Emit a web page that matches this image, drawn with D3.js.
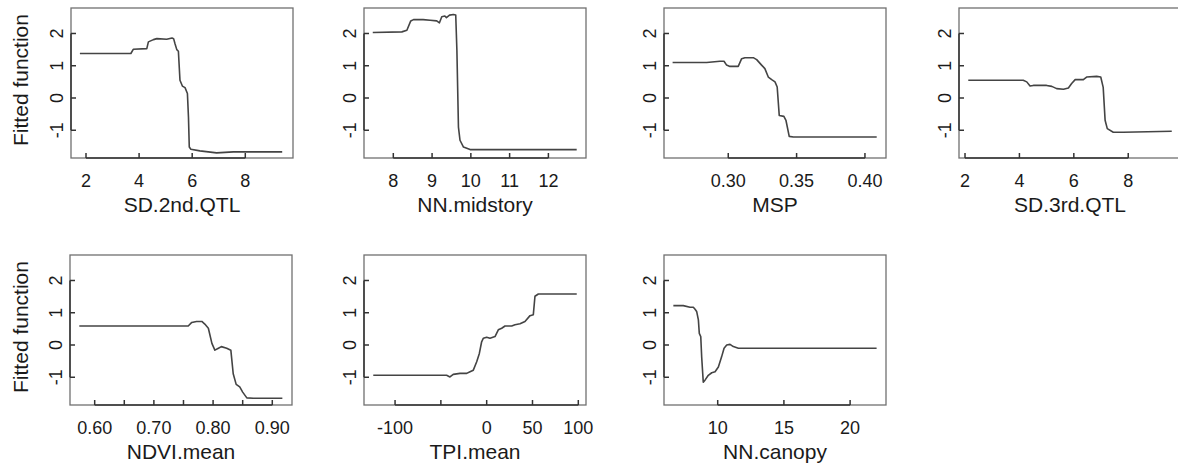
<!DOCTYPE html>
<html lang="en">
<head>
    <meta charset="UTF-8">
    <title>Partial dependence plots</title>
    <script src="https://d3js.org/d3.v7.min.js"></script>
    <style>
        body {
            margin: 0;
            background: #fff;
            font-family: "Liberation Sans", Arial, sans-serif;
        }
        .box {
            fill: none;
            stroke: #707070;
            stroke-width: 1.3;
        }
        .axisline, .tick {
            stroke: #333;
            stroke-width: 1.5;
        }
        .curve {
            fill: none;
            stroke: #444;
            stroke-width: 1.6;
            stroke-linejoin: round;
        }
        text {
            fill: #1a1a1a;
        }
    </style>
</head>
<body>
    <script>
        // Variable names (x axis titles)
        const names = ["SD.2nd.QTL", "NN.midstory", "MSP", "SD.3rd.QTL", "NDVI.mean", "TPI.mean", "NN.canopy"];

        // Fitted function curves
        const sd2X = [1.77, 3.69, 3.78, 4.29, 4.35, 4.54, 4.67, 5.04, 5.24, 5.30, 5.35, 5.42, 5.48, 5.54, 5.63, 5.73, 5.82, 5.86, 5.89, 5.95, 6.29, 6.92, 7.55, 9.39];
        const sd2Y = [1.38, 1.38, 1.51, 1.53, 1.74, 1.81, 1.84, 1.82, 1.86, 1.84, 1.69, 1.50, 1.45, 0.55, 0.37, 0.32, 0.14, -0.60, -1.52, -1.59, -1.64, -1.70, -1.67, -1.67];

        const nnmX = [7.47, 8.22, 8.35, 8.45, 8.52, 8.77, 8.95, 9.12, 9.19, 9.25, 9.33, 9.37, 9.45, 9.55, 9.61, 9.64, 9.68, 9.72, 9.81, 9.98, 12.73];
        const nnmY = [2.03, 2.05, 2.10, 2.39, 2.43, 2.43, 2.41, 2.39, 2.33, 2.52, 2.54, 2.49, 2.57, 2.59, 2.57, 1.48, -0.90, -1.31, -1.52, -1.60, -1.60];

        const mspX = [0.2593, 0.2842, 0.2939, 0.2969, 0.2988, 0.3012, 0.3073, 0.3098, 0.3122, 0.3183, 0.3208, 0.3244, 0.3268, 0.3293, 0.3318, 0.3342, 0.3358, 0.3373, 0.3407, 0.3422, 0.3446, 0.3476, 0.4086];
        const mspY = [1.10, 1.10, 1.14, 1.14, 1.02, 0.98, 0.98, 1.22, 1.25, 1.25, 1.19, 1.02, 0.91, 0.65, 0.57, 0.50, 0.34, -0.54, -0.57, -0.69, -1.19, -1.21, -1.21];

        const sd3X = [2.12, 4.14, 4.27, 4.39, 4.51, 5.00, 5.19, 5.37, 5.62, 5.80, 5.92, 6.05, 6.35, 6.47, 6.84, 6.99, 7.08, 7.15, 7.23, 7.45, 7.82, 9.60];
        const sd3Y = [0.55, 0.55, 0.50, 0.37, 0.39, 0.39, 0.36, 0.29, 0.27, 0.31, 0.45, 0.57, 0.57, 0.65, 0.67, 0.65, 0.33, -0.69, -0.95, -1.06, -1.06, -1.03];

        const ndviX = [0.574, 0.758, 0.764, 0.772, 0.781, 0.786, 0.792, 0.798, 0.803, 0.809, 0.814, 0.823, 0.830, 0.834, 0.839, 0.845, 0.850, 0.857, 0.868, 0.917];
        const ndviY = [0.59, 0.59, 0.70, 0.73, 0.73, 0.65, 0.52, 0.05, -0.16, -0.10, -0.05, -0.10, -0.16, -0.89, -1.22, -1.30, -1.46, -1.64, -1.65, -1.65];

        const tpiX = [-123.8, -43.7, -40.1, -36.5, -29.1, -21.8, -18.2, -14.6, -10.9, -8.0, -5.5, -3.6, 0, 3.6, 9.1, 12.7, 16.4, 20.0, 27.3, 30.9, 36.4, 41.8, 47.3, 50.9, 52.7, 56.4, 98.3];
        const tpiY = [-0.94, -0.94, -0.99, -0.91, -0.88, -0.88, -0.83, -0.78, -0.52, -0.26, 0.10, 0.21, 0.24, 0.21, 0.26, 0.47, 0.52, 0.59, 0.59, 0.63, 0.66, 0.73, 0.91, 0.94, 1.51, 1.58, 1.58];

        const nncX = [6.65, 7.40, 7.91, 8.16, 8.29, 8.41, 8.54, 8.61, 8.72, 8.79, 8.91, 9.04, 9.29, 9.55, 9.80, 10.05, 10.30, 10.48, 10.68, 10.93, 11.18, 11.56, 22.0];
        const nncY = [1.22, 1.22, 1.17, 1.17, 1.11, 1.04, 0.78, 0.36, 0.26, -0.37, -1.15, -1.09, -0.94, -0.86, -0.83, -0.68, -0.36, -0.10, 0.00, 0.02, -0.05, -0.10, -0.10];

        const seriesX = [sd2X, nnmX, mspX, sd3X, ndviX, tpiX, nncX];
        const seriesY = [sd2Y, nnmY, mspY, sd3Y, ndviY, tpiY, nncY];

        // Axis ranges (R's usr limits)
        const xDomains = [[1.435, 9.797], [7.244, 12.97], [0.253, 0.4154], [1.779, 9.94], [0.5583, 0.9333], [-133.9, 108.4], [5.944, 22.71]];
        const yDomain = [-1.86, 2.79];

        // Tick marks and labels
        const xTicks = [
            [2, 4, 6, 8],
            [8, 9, 10, 11, 12],
            [0.30, 0.35, 0.40],
            [2, 4, 6, 8],
            [0.60, 0.65, 0.70, 0.75, 0.80, 0.85, 0.90],
            [-100, -50, 0, 50, 100],
            [10, 15, 20]
        ];
        const xLabels = [
            ["2", "4", "6", "8"],
            ["8", "9", "10", "11", "12"],
            ["0.30", "0.35", "0.40"],
            ["2", "4", "6", "8"],
            ["0.60", "", "0.70", "", "0.80", "", "0.90"],
            ["-100", "", "0", "50", "100"],
            ["10", "15", "20"]
        ];
        const yTicks = [-1, 0, 1, 2];
        const yTitle = "Fitted function";

        // Layout
        const W = 1178, H = 464;
        const panelLeft = [71, 364, 664, 959, 70, 364, 664];
        const panelTop = [8, 8, 8, 8, 255, 255, 255];
        const pw = 222, ph = 150, tickLen = 5;

        const svg = d3.select("body").append("svg")
            .attr("width", W)
            .attr("height", H);

        names.forEach((name, i) => {
            const g = svg.append("g")
                .attr("transform", `translate(${panelLeft[i]},${panelTop[i]})`);

            const x = d3.scaleLinear().domain(xDomains[i]).range([0, pw]);
            const y = d3.scaleLinear().domain(yDomain).range([ph, 0]);

            g.append("rect")
                .attr("class", "box")
                .attr("x", 0).attr("y", 0)
                .attr("width", pw).attr("height", ph);

            // bottom axis: line between first and last tick, ticks pointing inward
            const xt = xTicks[i];
            g.append("line")
                .attr("class", "axisline")
                .attr("x1", x(xt[0])).attr("x2", x(xt[xt.length - 1]))
                .attr("y1", ph).attr("y2", ph);
            g.selectAll(".xtick")
                .data(xt)
                .join("line")
                .attr("class", "tick")
                .attr("x1", d => x(d)).attr("x2", d => x(d))
                .attr("y1", ph).attr("y2", ph - tickLen);
            g.selectAll(".xlab")
                .data(xt)
                .join("text")
                .attr("x", d => x(d))
                .attr("y", ph + 28.5)
                .attr("text-anchor", "middle")
                .attr("font-size", 18)
                .text((d, j) => xLabels[i][j]);

            // left axis
            g.append("line")
                .attr("class", "axisline")
                .attr("x1", 0).attr("x2", 0)
                .attr("y1", y(yTicks[0])).attr("y2", y(yTicks[yTicks.length - 1]));
            g.selectAll(".ytick")
                .data(yTicks)
                .join("line")
                .attr("class", "tick")
                .attr("x1", 0).attr("x2", tickLen)
                .attr("y1", d => y(d)).attr("y2", d => y(d));
            g.selectAll(".ylab")
                .data(yTicks)
                .join("text")
                .attr("transform", d => `translate(-8,${y(d)}) rotate(-90)`)
                .attr("text-anchor", "middle")
                .attr("font-size", 18)
                .text(d => d);

            // x title
            g.append("text")
                .attr("x", pw / 2)
                .attr("y", ph + 54)
                .attr("text-anchor", "middle")
                .attr("font-size", 21)
                .text(name);

            // y title on the left column only
            if (i === 0 || i === 4) {
                g.append("text")
                    .attr("transform", `translate(${-panelLeft[i] + 28},${ph / 2 - 3}) rotate(-90)`)
                    .attr("text-anchor", "middle")
                    .attr("font-size", 21)
                    .text(yTitle);
            }

            // fitted curve
            const pts = seriesX[i].map((v, j) => [v, seriesY[i][j]]);
            g.append("path")
                .datum(pts)
                .attr("class", "curve")
                .attr("d", d3.line().x(d => x(d[0])).y(d => y(d[1])));
        });
    </script>
</body>
</html>
